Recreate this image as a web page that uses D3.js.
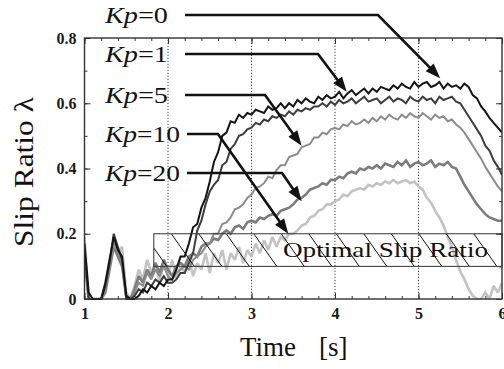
<!DOCTYPE html>
<html>
<head>
<meta charset="utf-8">
<script src="https://cdn.jsdelivr.net/npm/d3@7"></script>
<style>
  html, body { margin: 0; padding: 0; background: #fff; }
  svg { display: block; }
</style>
</head>
<body>
<svg id="chart" width="504" height="369"></svg>
<script>
// Slip ratio measured every 0.05 s from 1 s to 6 s, one array per gain Kp
const sampleStep = 0.05;
const timeStart = 1;

const kp0 = [
  0.17, 0.02, 0.00, 0.00, 0.00, 0.05, 0.12, 0.19, 0.15, 0.13,
  0.01, 0.00, 0.00, 0.01, 0.03, 0.02, 0.04, 0.03, 0.05, 0.04,
  0.06, 0.06, 0.09, 0.13, 0.13, 0.17, 0.22, 0.23, 0.28, 0.31,
  0.36, 0.42, 0.45, 0.50, 0.51, 0.545, 0.54, 0.565, 0.555, 0.57,
  0.565, 0.58, 0.575, 0.57, 0.59, 0.58, 0.585, 0.60, 0.585, 0.60,
  0.59, 0.61, 0.60, 0.615, 0.605, 0.60, 0.62, 0.61, 0.625, 0.615,
  0.62, 0.635, 0.615, 0.63, 0.64, 0.625, 0.635, 0.645, 0.63, 0.645,
  0.635, 0.65, 0.645, 0.64, 0.655, 0.645, 0.66, 0.65, 0.645, 0.665,
  0.65, 0.66, 0.665, 0.65, 0.655, 0.665, 0.645, 0.66, 0.65, 0.655,
  0.645, 0.66, 0.65, 0.625, 0.615, 0.59, 0.575, 0.555, 0.54, 0.525,
  0.51
];

const kp1 = [
  0.15, 0.00, 0.00, 0.00, 0.00, 0.04, 0.11, 0.20, 0.16, 0.12,
  0.00, 0.00, 0.01, 0.03, 0.02, 0.05, 0.04, 0.06, 0.05, 0.07,
  0.05, 0.05, 0.06, 0.08, 0.08, 0.11, 0.14, 0.21, 0.24, 0.29,
  0.33, 0.35, 0.365, 0.41, 0.42, 0.46, 0.475, 0.50, 0.505, 0.52,
  0.525, 0.54, 0.535, 0.55, 0.545, 0.56, 0.555, 0.565, 0.56, 0.575,
  0.565, 0.58, 0.575, 0.585, 0.58, 0.59, 0.59, 0.60, 0.59, 0.605,
  0.595, 0.61, 0.60, 0.605, 0.615, 0.60, 0.61, 0.62, 0.605, 0.61,
  0.615, 0.60, 0.61, 0.62, 0.605, 0.615, 0.61, 0.60, 0.62, 0.61,
  0.605, 0.62, 0.61, 0.615, 0.60, 0.62, 0.61, 0.615, 0.62, 0.605,
  0.60, 0.58, 0.56, 0.54, 0.52, 0.50, 0.47, 0.455, 0.425, 0.405,
  0.38
];

const kp5 = [
  0.14, 0.00, 0.00, 0.00, 0.00, 0.03, 0.10, 0.17, 0.15, 0.11,
  0.00, 0.00, 0.02, 0.05, 0.04, 0.08, 0.06, 0.09, 0.07, 0.10,
  0.07, 0.06, 0.08, 0.09, 0.10, 0.09, 0.12, 0.13, 0.14, 0.16,
  0.17, 0.20, 0.20, 0.23, 0.235, 0.25, 0.275, 0.28, 0.29, 0.31,
  0.32, 0.34, 0.345, 0.355, 0.375, 0.37, 0.395, 0.41, 0.41, 0.435,
  0.44, 0.445, 0.465, 0.47, 0.475, 0.495, 0.495, 0.51, 0.505, 0.52,
  0.525, 0.52, 0.535, 0.53, 0.545, 0.535, 0.54, 0.55, 0.54, 0.555,
  0.545, 0.56, 0.55, 0.565, 0.555, 0.55, 0.565, 0.555, 0.57, 0.56,
  0.555, 0.57, 0.56, 0.55, 0.565, 0.555, 0.56, 0.545, 0.55, 0.535,
  0.525, 0.51, 0.49, 0.47, 0.45, 0.43, 0.405, 0.385, 0.365, 0.345,
  0.33
];

const kp10 = [
  0.19, 0.00, 0.00, 0.00, 0.00, 0.05, 0.12, 0.18, 0.14, 0.16,
  0.02, 0.00, 0.04, 0.09, 0.06, 0.12, 0.08, 0.11, 0.05, 0.12,
  0.07, 0.12, 0.06, 0.10, 0.08, 0.13, 0.07, 0.11, 0.09, 0.14,
  0.08, 0.14, 0.11, 0.15, 0.09, 0.14, 0.12, 0.16, 0.11, 0.15,
  0.13, 0.17, 0.14, 0.18, 0.15, 0.19, 0.16, 0.19, 0.18, 0.20,
  0.20, 0.21, 0.225, 0.23, 0.25, 0.255, 0.27, 0.275, 0.29, 0.29,
  0.30, 0.305, 0.32, 0.315, 0.33, 0.335, 0.34, 0.335, 0.35, 0.345,
  0.355, 0.35, 0.36, 0.355, 0.365, 0.355, 0.36, 0.365, 0.355, 0.36,
  0.345, 0.335, 0.31, 0.295, 0.27, 0.25, 0.225, 0.19, 0.16, 0.12,
  0.085, 0.06, 0.03, 0.01, 0.00, 0.00, 0.02, 0.00, 0.04, 0.02,
  0.05
];

const kp20 = [
  0.12, 0.00, 0.00, 0.00, 0.00, 0.02, 0.09, 0.16, 0.13, 0.10,
  0.01, 0.00, 0.03, 0.07, 0.05, 0.09, 0.07, 0.11, 0.08, 0.12,
  0.09, 0.07, 0.10, 0.11, 0.10, 0.13, 0.14, 0.13, 0.16, 0.17,
  0.17, 0.185, 0.18, 0.20, 0.21, 0.20, 0.22, 0.225, 0.215, 0.235,
  0.24, 0.235, 0.25, 0.245, 0.255, 0.26, 0.255, 0.27, 0.275, 0.28,
  0.29, 0.305, 0.31, 0.32, 0.335, 0.34, 0.345, 0.355, 0.35, 0.365,
  0.365, 0.375, 0.37, 0.385, 0.39, 0.385, 0.40, 0.395, 0.405, 0.40,
  0.41, 0.40, 0.415, 0.41, 0.405, 0.42, 0.41, 0.425, 0.405, 0.415,
  0.42, 0.41, 0.415, 0.425, 0.405, 0.415, 0.41, 0.42, 0.405, 0.40,
  0.375, 0.35, 0.33, 0.31, 0.29, 0.275, 0.26, 0.25, 0.245, 0.24,
  0.24
];

const xTickLabels = [1, 2, 3, 4, 5, 6];
const yTickLabels = [0, 0.2, 0.4, 0.6, 0.8];
const gridTimes = [2, 3, 4, 5];
const optimalBand = [0.1, 0.2];   // optimal slip ratio range
const optimalBandStart = 1.83;    // s

// series in drawing order (bottom to top) with the annotation arrow targets [t, λ]
const seriesList = [
  { name: "10", values: kp10, color: "#c3c3c3", width: 2.6, target: [3.44, 0.20] },
  { name: "20", values: kp20, color: "#7c7c7c", width: 2.6, target: [3.6, 0.30] },
  { name: "5",  values: kp5,  color: "#8c8c8c", width: 2.0, target: [3.6, 0.47] },
  { name: "1",  values: kp1,  color: "#3d3d3d", width: 2.0, target: [4.14, 0.635] },
  { name: "0",  values: kp0,  color: "#141414", width: 2.0, target: [5.26, 0.677] }
];

const svg = d3.select("#chart");
const serif = "'Liberation Serif', 'DejaVu Serif', serif";

const x = d3.scaleLinear().domain([1, 6]).range([84.5, 502]);
const y = d3.scaleLinear().domain([0, 0.8]).range([299, 38]);

// dotted vertical grid
svg.append("g").selectAll("line").data(gridTimes).join("line")
  .attr("x1", d => x(d)).attr("x2", d => x(d))
  .attr("y1", y(0)).attr("y2", y(0.8))
  .attr("stroke", "#444").attr("stroke-width", 1)
  .attr("stroke-dasharray", "1.2,1.8");

// slip ratio traces
const line = d3.line()
  .x((d, i) => x(timeStart + i * sampleStep))
  .y(d => y(d));

svg.append("clipPath").attr("id", "plotClip")
  .append("rect").attr("x", x(1)).attr("y", y(0.8))
  .attr("width", x(6) - x(1)).attr("height", y(0) - y(0.8) + 1);

svg.append("g").attr("clip-path", "url(#plotClip)")
  .selectAll("path").data(seriesList).join("path")
  .attr("d", d => line(d.values))
  .attr("fill", "none")
  .attr("stroke", d => d.color)
  .attr("stroke-width", d => d.width)
  .attr("stroke-linejoin", "miter")
  .attr("stroke-miterlimit", 2);

// hatched optimal slip ratio band
const bx0 = x(optimalBandStart), bx1 = x(6);
const by0 = y(optimalBand[1]), by1 = y(optimalBand[0]);
svg.append("clipPath").attr("id", "bandClip")
  .append("rect").attr("x", bx0).attr("y", by0)
  .attr("width", bx1 - bx0).attr("height", by1 - by0);
const hatchStep = 27.5, hatchRun = 23;
const hatchStarts = d3.range(bx0 - 10, bx1 + 10, hatchStep);
svg.append("g").attr("clip-path", "url(#bandClip)")
  .selectAll("line").data(hatchStarts).join("line")
  .attr("x1", d => d).attr("y1", by0)
  .attr("x2", d => d + hatchRun).attr("y2", by1)
  .attr("stroke", "#111").attr("stroke-width", 1);
svg.append("rect")
  .attr("x", bx0).attr("y", by0)
  .attr("width", bx1 - bx0).attr("height", by1 - by0)
  .attr("fill", "none").attr("stroke", "#333").attr("stroke-width", 1);
svg.append("text")
  .attr("x", 283).attr("y", 257)
  .attr("font-family", serif).attr("font-size", 22)
  .attr("textLength", 205).attr("lengthAdjust", "spacingAndGlyphs")
  .attr("fill", "#111")
  .text("Optimal Slip Ratio");

// frame
svg.append("rect")
  .attr("x", x(1)).attr("y", y(0.8))
  .attr("width", x(6) - x(1)).attr("height", y(0) - y(0.8))
  .attr("fill", "none").attr("stroke", "#333").attr("stroke-width", 1.4);

// inward ticks on all four sides
const xMinor = d3.range(1, 6.0001, 0.2);
const yMinor = d3.range(0, 0.8001, 0.1);
function styleAxis(g) {
  g.select(".domain").remove();
  g.selectAll(".tick line").attr("stroke", "#333").attr("stroke-width", 1);
  g.selectAll("text")
    .attr("font-family", serif).attr("font-weight", "bold")
    .attr("font-size", 16).attr("fill", "#1a1a1a");
}
svg.append("g").attr("transform", `translate(0,${y(0)})`)
  .call(d3.axisBottom(x).tickValues(xMinor).tickSize(-3).tickFormat(""))
  .call(styleAxis);
svg.append("g").attr("transform", `translate(0,${y(0)})`)
  .call(d3.axisBottom(x).tickValues(xTickLabels).tickSize(-6).tickPadding(9)
    .tickFormat(d3.format("d")))
  .call(styleAxis);
svg.append("g").attr("transform", `translate(0,${y(0.8)})`)
  .call(d3.axisTop(x).tickValues(xMinor).tickSize(-3).tickFormat(""))
  .call(styleAxis);
svg.append("g").attr("transform", `translate(0,${y(0.8)})`)
  .call(d3.axisTop(x).tickValues(xTickLabels).tickSize(-6).tickFormat(""))
  .call(styleAxis);
svg.append("g").attr("transform", `translate(${x(1)},0)`)
  .call(d3.axisLeft(y).tickValues(yMinor).tickSize(-3).tickFormat(""))
  .call(styleAxis);
svg.append("g").attr("transform", `translate(${x(1)},0)`)
  .call(d3.axisLeft(y).tickValues(yTickLabels).tickSize(-6).tickPadding(8)
    .tickFormat(d => d === 0 ? "0" : d3.format(".1f")(d)))
  .call(styleAxis);
svg.append("g").attr("transform", `translate(${x(6)},0)`)
  .call(d3.axisRight(y).tickValues(yMinor).tickSize(-3).tickFormat(""))
  .call(styleAxis);
svg.append("g").attr("transform", `translate(${x(6)},0)`)
  .call(d3.axisRight(y).tickValues(yTickLabels).tickSize(-6).tickFormat(""))
  .call(styleAxis);

// axis titles
svg.append("text")
  .attr("font-family", serif).attr("font-size", 27).attr("fill", "#111")
  .attr("x", 240).attr("y", 356)
  .call(t => {
    t.append("tspan").text("Time");
    t.append("tspan").attr("x", 319).text("[s]");
  });
svg.append("text")
  .attr("transform", "translate(33,172) rotate(-90)")
  .attr("text-anchor", "middle")
  .attr("font-family", serif).attr("font-size", 27).attr("fill", "#111")
  .attr("textLength", 150).attr("lengthAdjust", "spacingAndGlyphs")
  .text("Slip Ratio  λ");

// gain labels with leader arrows
const labelLayout = {
  "0":  { ty: 15,  lineStart: 185, elbow: 378, textEnd: 168 },
  "1":  { ty: 54,  lineStart: 185, elbow: 318, textEnd: 168 },
  "5":  { ty: 95,  lineStart: 185, elbow: 265, textEnd: 168 },
  "10": { ty: 134, lineStart: 187, elbow: 218, textEnd: 180 },
  "20": { ty: 173, lineStart: 187, elbow: 282, textEnd: 180 }
};
const ann = svg.append("g");
seriesList.forEach(s => {
  const L = labelLayout[s.name];
  const tx = x(s.target[0]), ty = y(s.target[1]);
  const ex = L.elbow, ey = L.ty;
  const dx = tx - ex, dy = ty - ey, len = Math.hypot(dx, dy);
  const ux = dx / len, uy = dy / len;
  const headLen = 15, headHalf = 5.5;
  const bxh = tx - ux * headLen, byh = ty - uy * headLen;
  ann.append("path")
    .attr("d", `M${L.lineStart},${L.ty}L${ex},${ey}L${bxh + ux},${byh + uy}`)
    .attr("fill", "none").attr("stroke", "#111").attr("stroke-width", 2.6);
  ann.append("path")
    .attr("d", `M${tx},${ty}L${bxh - uy * headHalf},${byh + ux * headHalf}` +
               `L${bxh + uy * headHalf},${byh - ux * headHalf}Z`)
    .attr("fill", "#111");
  const label = ann.append("text")
    .attr("x", 105).attr("y", L.ty + 8)
    .attr("font-family", serif).attr("font-size", 24).attr("fill", "#111")
    .attr("textLength", L.textEnd - 105).attr("lengthAdjust", "spacingAndGlyphs");
  label.append("tspan").attr("font-style", "italic").text("K");
  label.append("tspan").attr("font-style", "italic").text("p");
  label.append("tspan").text("=" + s.name);
});
</script>
</body>
</html>
